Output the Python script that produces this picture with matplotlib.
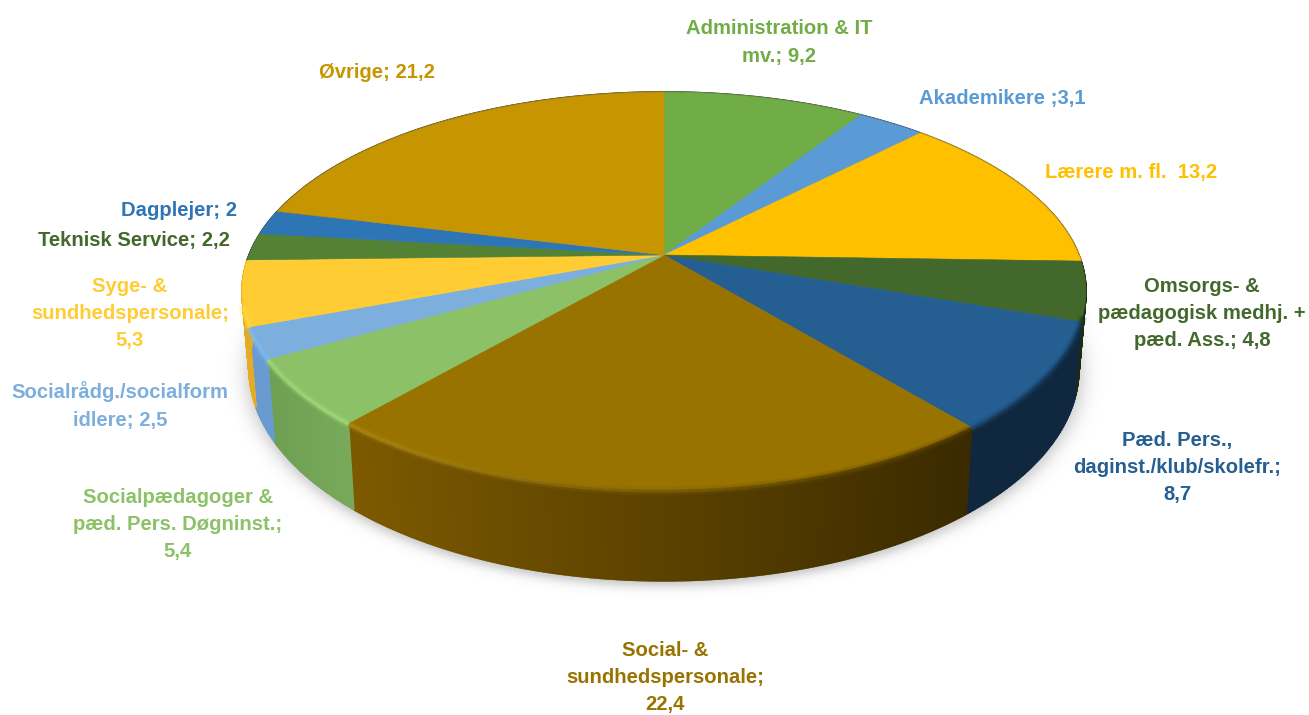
import numpy as np
import matplotlib
matplotlib.use("Agg")
import matplotlib.pyplot as plt
from matplotlib.collections import LineCollection
from matplotlib.colors import to_rgb

labels = ["Administration & IT\nmv.; 9,2", "Akademikere ;3,1", "Lærere m. fl.  13,2",
          "Omsorgs- &\npædagogisk medhj. +\npæd. Ass.; 4,8",
          "Pæd. Pers.,\ndaginst./klub/skolefr.;\n8,7", "Social- &\nsundhedspersonale;\n22,4",
          "Socialpædagoger &\npæd. Pers. Døgninst.;\n5,4", "Socialrådg./socialform\nidlere; 2,5",
          "Syge- &\nsundhedspersonale;\n5,3", "Teknisk Service; 2,2", "Dagplejer; 2", "Øvrige; 21,2"]
values = [9.2, 3.1, 13.2, 4.8, 8.7, 22.4, 5.4, 2.5, 5.3, 2.2, 2.0, 21.2]
colors = ["#70ad47", "#5b9bd5", "#ffc000", "#43682b", "#255e91", "#997300",
          "#8cc168", "#7cafdd", "#ffcd33", "#548235", "#2e75b6", "#c69500"]
text_colors = ["#70ad47", "#5b9bd5", "#ffc000", "#43682b", "#255e91", "#997300",
               "#8cc168", "#7cafdd", "#ffcd33", "#43682b", "#2e75b6", "#c69500"]
label_x = [779, 1002, 1131, 1202, 1177, 665, 178, 120, 130, 134, 179, 377]
label_y = [42.5, 98.5, 172.5, 313.5, 467.5, 677.5, 524.5, 405.5, 313.5, 240.5, 210.5, 72.5]

# side wall colours, left and right end of each slice
wall_left = ["#3d5f26", "#335a80", "#8a6a00", "#1c2c10", "#10283f", "#7d5a00",
             "#6f9f52", "#6a9bd0", "#e5ab22", "#2e4a1a", "#1a4570", "#6e5400"]
wall_right = ["#3d5f26", "#335a80", "#8a6a00", "#1c2c10", "#10283f", "#3a2a00",
              "#79aa5c", "#6a9bd0", "#e5ab22", "#2e4a1a", "#1a4570", "#6e5400"]
rim_left = ["#70ad47", "#5b9bd5", "#ffc000", "#24381a", "#1d4d78", "#b08c14",
            "#a5e07c", "#82c0f5", "#ffdc40", "#548235", "#2e75b6", "#c69500"]
rim_right = ["#70ad47", "#5b9bd5", "#ffc000", "#24381a", "#163a5c", "#4d3900",
             "#a5e07c", "#82c0f5", "#ffdc40", "#548235", "#2e75b6", "#c69500"]

# perspective of the top face and of the bottom face
cx = 664
top = dict(a=415, b=192.5, k=0.181, y0=255)
bottom = dict(a=408, b=205, k=0.181, y0=330.5)


def project(t, a, b, k, y0):
    u, v = np.sin(t), np.cos(t)
    s = 1 + k * v
    return cx + a * u / s, y0 - b * v / s


def mix(c0, c1, f):
    c0, c1 = np.array(to_rgb(c0)), np.array(to_rgb(c1))
    return tuple(c0 + (c1 - c0) * f)


fig = plt.figure(figsize=(13.09, 7.15), dpi=100)
ax = fig.add_axes([0, 0, 1, 1])
ax.set_xlim(0, 1309)
ax.set_ylim(715, 0)
ax.axis("off")

# soft shadow under the pie
X, Y = np.meshgrid(np.arange(0, 1309, 2), np.arange(0, 715, 2))
d = (np.sqrt(((X - cx) / 418) ** 2 + ((Y - 372) / 214) ** 2) - 1) * 300
shadow = np.zeros(X.shape + (4,))
shadow[..., :3] = 0.35
shadow[..., 3] = 0.36 * (0.5 - 0.5 * np.tanh(d / 8))
ax.imshow(shadow, extent=(0, 1309, 715, 0), zorder=0, aspect="auto", interpolation="bilinear")

edges = np.cumsum([0] + values) / sum(values) * 2 * np.pi

# walls first, cut in thin strips to get the gradient
for i in range(len(values)):
    ts = np.linspace(edges[i], edges[i + 1], max(int(values[i] * 12), 4))
    xs = project(ts, **top)[0]
    for j in range(len(ts) - 1):
        pair = ts[j:j + 2]
        xt, yt = project(pair, **top)
        xb, yb = project(pair, **bottom)
        f = (xt.mean() - xs.min()) / (xs.max() - xs.min())
        c = mix(wall_left[i], wall_right[i], f)
        ax.fill([xt[0], xt[1], xb[1], xb[0]], [yt[0], yt[1], yb[1], yb[0]],
                color=c, lw=1.2, zorder=2)

# top face
for i in range(len(values)):
    ts = np.linspace(edges[i], edges[i + 1], 120)
    xt, yt = project(ts, **top)
    ax.fill(np.r_[cx, xt], np.r_[top["y0"], yt], color=colors[i], lw=0.4, zorder=3)

# rounded edge between top face and wall, front half only
for i in range(len(values)):
    ts = np.linspace(edges[i], edges[i + 1], 80)
    ts = ts[(ts > np.pi / 2 + 0.3) & (ts < 1.5 * np.pi - 0.25)]
    if len(ts) < 2:
        continue
    xt, yt = project(ts, **top)
    pts = np.column_stack([xt, yt + 1]).reshape(-1, 1, 2)
    segs = np.concatenate([pts[:-1], pts[1:]], axis=1)
    mids = segs[:, :, 0].mean(axis=1)
    fr = (mids - mids.min()) / (np.ptp(mids) + 1e-6)
    cols = [mix(rim_left[i], rim_right[i], f) for f in fr]
    ax.add_collection(LineCollection(segs, colors=cols, linewidths=6.0, alpha=0.22, zorder=4))
    ax.add_collection(LineCollection(segs, colors=cols, linewidths=2.6, alpha=0.7, zorder=4))

# thin grey line along the back of the pie
ts = np.linspace(-0.5 * np.pi, 0.5 * np.pi, 200)
xt, yt = project(ts, **top)
ax.plot(xt, yt, color="#777777", lw=0.6, alpha=0.4, zorder=4)

for i in range(len(values)):
    ax.text(label_x[i], label_y[i], labels[i], color=text_colors[i], family="Liberation Sans",
            fontweight="bold", fontsize=14.6, ha="center", va="center", linespacing=1.55, zorder=5)

fig.savefig("out.png", dpi=100)
